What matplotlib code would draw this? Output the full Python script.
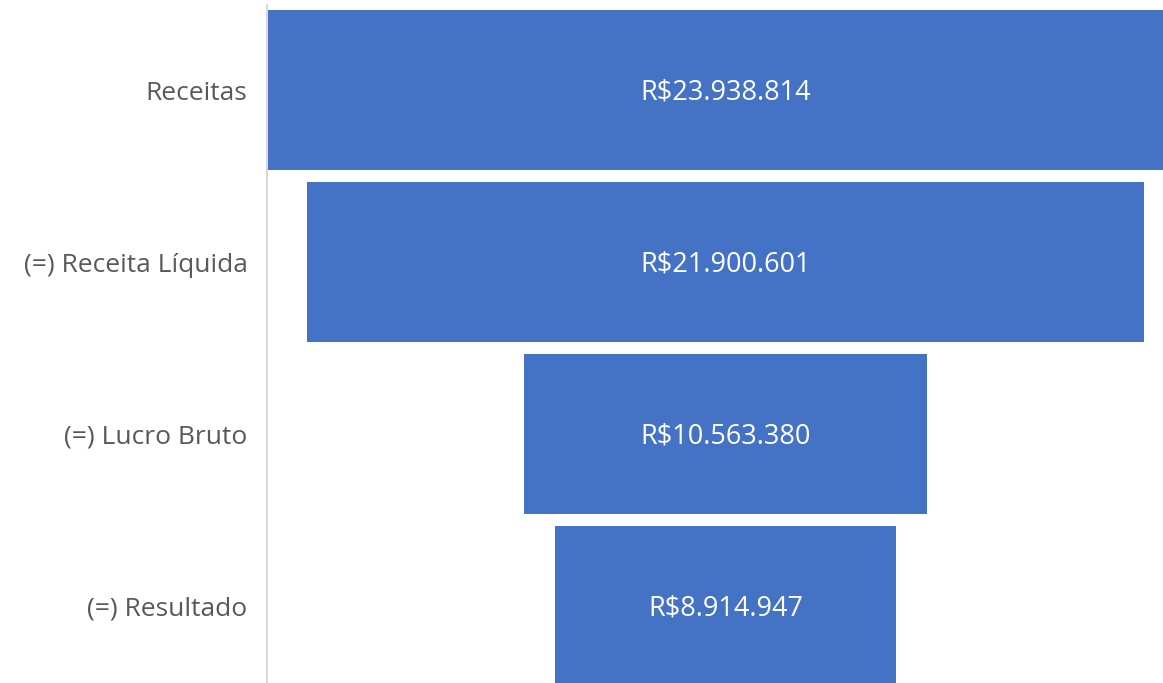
import matplotlib
matplotlib.use("Agg")
import matplotlib.pyplot as plt

categories = ["Receitas", "(=) Receita Líquida", "(=) Lucro Bruto", "(=) Resultado"]
values = [23938814, 21900601, 10563380, 8914947]
value_labels = ["R$23.938.814", "R$21.900.601", "R$10.563.380", "R$8.914.947"]

plt.rcParams['font.family'] = ['Open Sans', 'DejaVu Sans']

W, H = 1163, 683
fig = plt.figure(figsize=(W / 100, H / 100), dpi=100)
ax = fig.add_axes([267 / W, 0, 1 - 267 / W, 1 - 5 / H])

bar_color = "#4472C4"
ys = list(range(len(categories)))
lefts = [-v / 2 for v in values]
ax.barh(ys, values, left=lefts, height=160 / 172, color=bar_color, edgecolor="none")

for y, lab in zip(ys, value_labels):
    ax.text(0, y + 0.012, lab, ha="center", va="center", color="white", fontsize=19.5)

# scale: center at x=725.5 px, left edge of largest bar at 268 px
half = values[0] / 2
px_per_unit = (725.5 - 268) / half
ax.set_xlim(-(725.5 - 267) / px_per_unit, (1163 - 725.5) / px_per_unit)
top_px = 5
ax.set_ylim((683 - 90) / 172, -(90 - top_px) / 172)

ax.set_yticks(ys)
ax.set_yticklabels(categories, fontsize=19, color="#595959")
ax.tick_params(axis="y", length=0, pad=14)
ax.set_xticks([])
for s in ["top", "right", "bottom"]:
    ax.spines[s].set_visible(False)
ax.spines["left"].set_color("#D9D9D9")
ax.spines["left"].set_linewidth(1.5)

fig.savefig("out.png", dpi=100)
